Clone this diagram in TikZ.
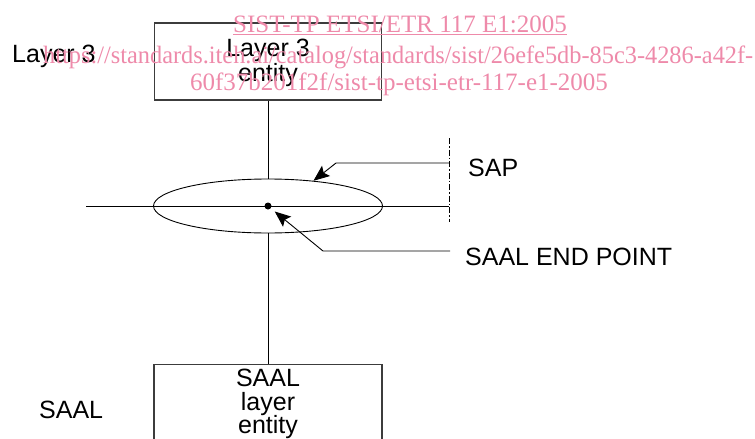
\documentclass[tikz,border=0pt]{standalone}
\usepackage{graphicx}
\usepackage{fontspec}
\setmainfont{Liberation Sans}
\newfontfamily\wmfont{Liberation Serif}
\usetikzlibrary{arrows.meta,shapes.geometric}
\definecolor{wmpink}{RGB}{238,138,170}
\definecolor{boxgray}{RGB}{60,60,60}
\tikzset{
  lbl/.style={font=\fontsize{25}{22}\selectfont, inner sep=0pt},
  entitybox/.style={draw=boxgray, line width=1.3pt, minimum width=227pt, inner sep=0pt},
  thinline/.style={line width=0.9pt},
  arr/.style={thinline, -{Stealth[length=16pt,width=13pt,inset=3pt]}},
  sapline/.style={line width=0.9pt, dash pattern=on 6pt off 2pt on 1.5pt off 2pt},
  wm/.style={font=\wmfont\fontsize{25}{27}\selectfont, text=wmpink, inner sep=0pt}
}
\begin{document}
\begin{tikzpicture}[x=1pt,y=-1pt]
\useasboundingbox (0,0) rectangle (755,439);
% top box
\node[entitybox, minimum height=77pt] (l3box) at (268,61.5) {};
\node[lbl, align=center] (l3txt) at (268,63) {Layer 3\\entity};
\node[lbl, anchor=west] (l3lbl) at (12,56) {Layer 3};
% ellipse
\node[draw, ellipse, thinline, minimum width=229pt, minimum height=54pt, inner sep=0pt] (sap) at (268,206) {};
\node[circle, fill, minimum size=7pt, inner sep=0pt] (ep) at (268,206) {};
\coordinate (hl) at (86,206);
\coordinate (hr) at (449,206);
\coordinate (dtop) at (449,138);
\coordinate (dbot) at (449,222);
\draw[thinline] (hl) -- (hr);
\draw[sapline] (dtop) -- (dbot);
% bottom box
\node[entitybox, anchor=north, minimum width=228pt, minimum height=120pt] (saalbox) at (268,364) {};
\node[lbl, align=center, font=\fontsize{25}{23.5}\selectfont] (saaltxt) at (268,404) {SAAL\\layer\\entity};
\node[lbl, anchor=west] (saallbl) at (39,410) {SAAL};
% vertical connectors
\draw[thinline] (l3box.south) -- (sap.north);
\draw[thinline] (sap.south) -- (saalbox.north);
% SAP pointer
\coordinate (sapa) at (449,163);
\coordinate (sapb) at (336,163);
\draw[arr] (sapa) -- (sapb) -- (sap.29);
\node[lbl, anchor=west] (saplbl) at (468,168) {SAP};
% end point pointer
\coordinate (epa) at (450,251);
\coordinate (epb) at (323,251);
\draw[arr, shorten >=5pt] (epa) -- (epb) -- (ep);
\node[lbl, anchor=west] (eplbl) at (465,257) {SAAL END POINT};
% watermark
\node[wm, anchor=base] (wm1) at (400,32) {\underline{SIST-TP ETSI/ETR 117 E1:2005}};
\node[wm, anchor=base west] (wm2) at (43,63) {\resizebox{710pt}{\height}{https://standards.iteh.ai/catalog/standards/sist/26efe5db-85c3-4286-a42f-}};
\node[wm, anchor=base] (wm3) at (399,90) {60f37b201f2f/sist-tp-etsi-etr-117-e1-2005};
\end{tikzpicture}
\end{document}
